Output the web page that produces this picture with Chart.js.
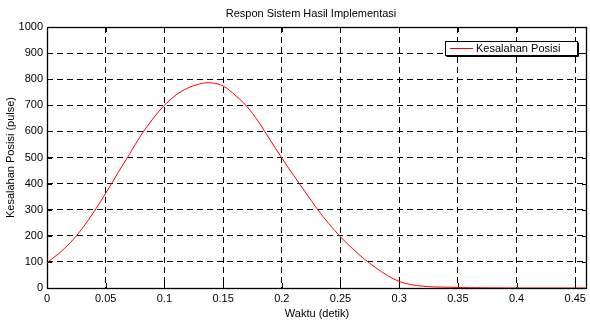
<!DOCTYPE html>
<html>
<head>
<meta charset="utf-8">
<script src="https://cdn.jsdelivr.net/npm/chart.js@4.4.0/dist/chart.umd.min.js"></script>
<style>
html, body { margin: 0; padding: 0; background: #fff; }
</style>
</head>
<body>
<canvas id="c" width="590" height="327"></canvas>
<script>
// data
const waktu = [0, 0.01, 0.02, 0.03, 0.04, 0.05, 0.06, 0.07, 0.08, 0.09,
  0.10, 0.11, 0.12, 0.13, 0.14, 0.15, 0.16, 0.17, 0.18, 0.19,
  0.20, 0.21, 0.22, 0.23, 0.24, 0.25, 0.26, 0.27, 0.28, 0.29,
  0.30, 0.31, 0.32, 0.33, 0.34, 0.35, 0.36, 0.37, 0.38, 0.39,
  0.40, 0.42, 0.44, 0.46];
const kesalahan = [97, 132, 174, 228, 292, 363, 438, 511, 585, 647,
  700, 740, 766, 782, 786, 774, 740, 697, 638, 568,
  498, 432, 368, 304, 247, 196, 152, 112, 78, 48,
  25, 13, 7, 4, 3, 2, 1.5, 1, 0.5, 0.3,
  0, 0, 0, 0];
const xTicks = [0, 0.05, 0.1, 0.15, 0.2, 0.25, 0.3, 0.35, 0.4, 0.45];
const yTicks = [0, 100, 200, 300, 400, 500, 600, 700, 800, 900, 1000];

const FONT = 'Liberation Sans, Arial, Helvetica, sans-serif';

const matlabBox = {
  id: 'matlabBox',
  beforeDatasetsDraw(chart) {
    const { ctx, chartArea: a, scales } = chart;
    ctx.save();
    ctx.strokeStyle = '#000';
    ctx.lineWidth = 1;
    ctx.setLineDash([]);
    ctx.beginPath();
    // inward tick marks on all four sides
    xTicks.forEach(v => {
      const x = Math.round(scales.x.getPixelForValue(v)) + 0.5;
      ctx.moveTo(x, a.bottom); ctx.lineTo(x, a.bottom - 5);
      ctx.moveTo(x, a.top); ctx.lineTo(x, a.top + 5);
    });
    yTicks.forEach(v => {
      const y = Math.round(scales.y.getPixelForValue(v)) + 0.5;
      ctx.moveTo(a.left, y); ctx.lineTo(a.left + 5, y);
      ctx.moveTo(a.right, y); ctx.lineTo(a.right - 5, y);
    });
    ctx.stroke();
    ctx.lineWidth = 1.3;
    ctx.strokeRect(Math.round(a.left) + 0.5, Math.round(a.top) + 0.5,
      Math.round(a.right - a.left) - 1, Math.round(a.bottom - a.top));
    ctx.restore();
  },
  afterDraw(chart) {
    const { ctx } = chart;
    ctx.save();
    // title
    ctx.fillStyle = '#000';
    ctx.font = '11px ' + FONT;
    ctx.textAlign = 'center';
    ctx.textBaseline = 'middle';
    ctx.fillText('Respon Sistem Hasil Implementasi', 311, 14);

    // legend box
    const lx = 445.5, ly = 41.5, lw = 132, lh = 14;
    ctx.fillStyle = '#fff';
    ctx.fillRect(lx, ly, lw, lh);
    ctx.strokeStyle = '#000';
    ctx.lineWidth = 1;
    ctx.strokeRect(lx, ly, lw, lh);
    ctx.beginPath();
    ctx.moveTo(lx + 1, ly + lh + 1); ctx.lineTo(lx + lw + 1, ly + lh + 1);
    ctx.lineTo(lx + lw + 1, ly + 1);
    ctx.stroke();
    const ds = chart.data.datasets[0];
    ctx.strokeStyle = ds.borderColor;
    ctx.beginPath();
    ctx.moveTo(450, ly + 7); ctx.lineTo(473, ly + 7);
    ctx.stroke();
    ctx.fillStyle = '#000';
    ctx.textAlign = 'left';
    ctx.fillText(ds.label, 476, ly + 7.5);
    ctx.restore();
  }
};

new Chart(document.getElementById('c'), {
  type: 'line',
  data: {
    datasets: [{
      label: 'Kesalahan Posisi',
      data: waktu.map((t, i) => ({ x: t, y: kesalahan[i] })),
      borderColor: '#ff0000',
      borderWidth: 1,
      pointRadius: 0,
      fill: false,
      tension: 0.35
    }]
  },
  options: {
    responsive: false,
    animation: false,
    layout: { padding: { top: 27, right: 2, left: 0, bottom: 0 } },
    plugins: {
      legend: { display: false },
      title: { display: false },
      tooltip: { enabled: false }
    },
    scales: {
      x: {
        type: 'linear',
        min: 0,
        max: 0.46,
        afterBuildTicks: s => { s.ticks = xTicks.map(v => ({ value: v })); },
        afterFit: s => { s.height = 39; },
        ticks: {
          color: '#000',
          font: { family: FONT, size: 11 },
          padding: 4,
          maxRotation: 0,
          autoSkip: false,
          callback: v => String(v)
        },
        grid: { color: '#000', lineWidth: 1, drawTicks: false },
        border: { display: false, dash: [6, 4] },
        title: {
          display: true,
          text: 'Waktu (detik)',
          color: '#000',
          font: { family: FONT, size: 11 },
          padding: { top: 0, bottom: 6 }
        }
      },
      y: {
        min: 0,
        max: 1000,
        afterBuildTicks: s => { s.ticks = yTicks.map(v => ({ value: v })); },
        afterFit: s => { s.width = 47; },
        ticks: {
          color: '#000',
          font: { family: FONT, size: 11 },
          padding: 4,
          autoSkip: false,
          callback: v => String(v)
        },
        grid: { color: '#000', lineWidth: 1, drawTicks: false },
        border: { display: false, dash: [6, 4] },
        title: {
          display: true,
          text: 'Kesalahan Posisi (pulse)',
          color: '#000',
          font: { family: FONT, size: 11 },
          padding: { top: 4, bottom: 0 }
        }
      }
    }
  },
  plugins: [matlabBox]
});
</script>
</body>
</html>
